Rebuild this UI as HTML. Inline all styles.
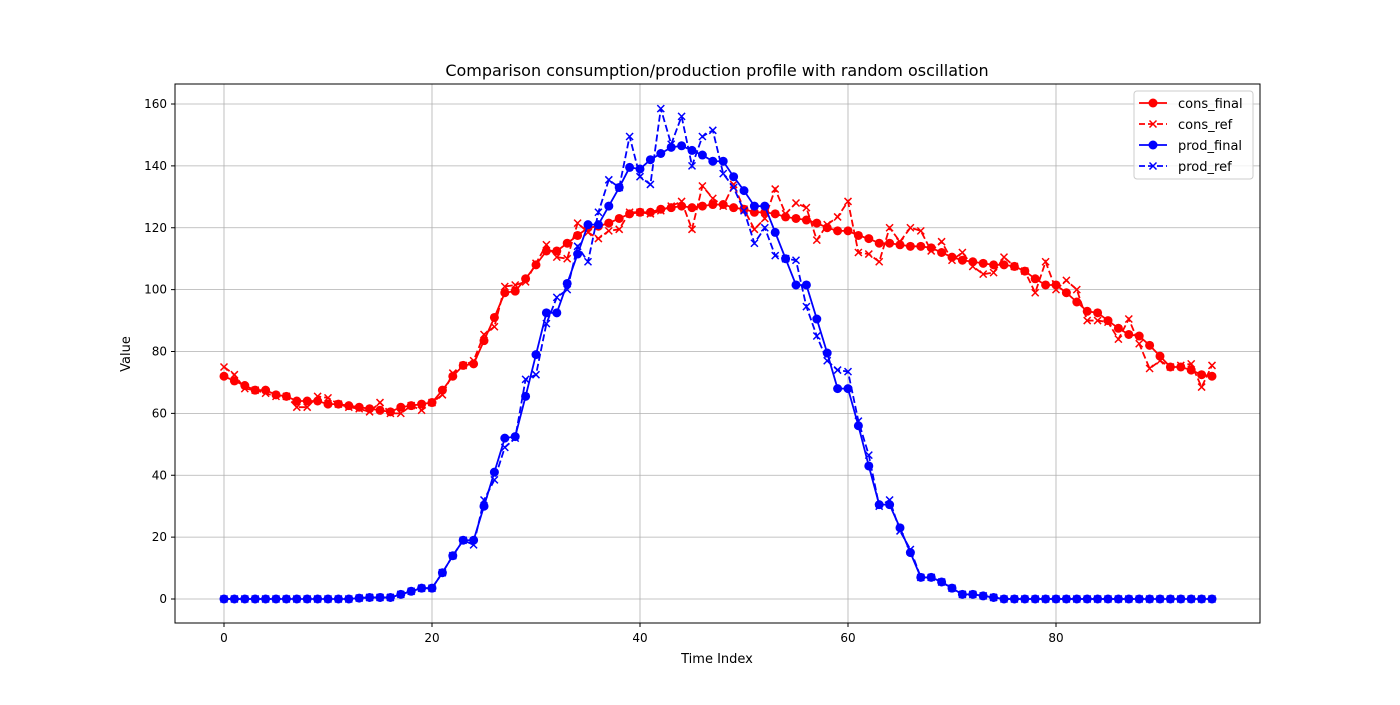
<!DOCTYPE html>
<html><head><meta charset="utf-8"><style>
body{margin:0;background:#fff;font-family:"Liberation Sans","DejaVu Sans",sans-serif}
svg text{font-family:"DejaVu Sans","Liberation Sans",sans-serif}
</style></head><body>
<svg id="chart" width="1400" height="700" xmlns="http://www.w3.org/2000/svg">
<rect width="1400" height="700" fill="#fff"/>
<g id="grid"></g>
<g id="series"></g>
<rect x="175" y="84" width="1085" height="539" fill="none" stroke="#000" stroke-width="1"/>
<g id="axes"></g>
<text x="717" y="76" text-anchor="middle" font-size="16">Comparison consumption/production profile with random oscillation</text>
<text x="717" y="663" text-anchor="middle" font-size="13">Time Index</text>
<text x="130" y="354" text-anchor="middle" font-size="13" transform="rotate(-90 130 354)">Value</text>
<g id="legend"></g>
</svg>
<script>
const xTicks=[0,20,40,60,80];
const yTicks=[0,20,40,60,80,100,120,140,160];
const consFinal=[72,70.5,69,67.5,67.5,66,65.5,64,64,64,63,63,62.5,62,61.5,61,60.5,62,62.5,63,63.5,67.5,72,75.5,76,83.5,91,99,99.5,103.5,108,112.5,112.5,115,117.5,120,120.5,121.5,123,124.5,125,125,126,126.5,127,126.5,127,127.5,127.5,126.5,126,125,125,124.5,123.5,123,122.5,121.5,120,119,119,117.5,116.5,115,115,114.5,114,114,113.5,112,110.5,109.5,109,108.5,108,108,107.5,106,103.5,101.5,101.5,99,96,93,92.5,90,87.5,85.5,85,82,78.5,75,75,74,72.5,72];
const consRef=[75,72.5,68,67.5,66.5,65.5,65.5,62,62,65.5,65,63,62,61.5,60.5,63.5,60,60,62.5,61,63.5,66,73,75.5,77,85.5,88,101,101.5,102.5,108.5,114.5,110.5,110,121.5,118.5,116.5,119,119.5,125,125,124.5,125.5,127,128.5,119.5,133.5,129.5,127,134,126,119.5,123,132.5,124.5,128,126.5,116,121,123.5,128.5,112,111.5,109,120,115.5,120,119,112.5,115.5,109.5,112,107.5,105,105.5,110.5,107.5,106,99,109,100,103,100,90,90,89.5,84,90.5,82.5,74.5,77,75,75.5,76,68.5,75.5];
const prodFinal=[0,0,0,0,0,0,0,0,0,0,0,0,0,0.3,0.5,0.5,0.5,1.5,2.5,3.5,3.5,8.5,14,19,19,30,41,52,52.5,65.5,79,92.5,92.5,102,111.5,121,121,127,133,139.5,139,142,144,146,146.5,145,143.5,141.5,141.5,136.5,132,127,127,118.5,110,101.5,101.5,90.5,79.5,68,68,56,43,30.5,30.5,23,15,7,7,5.5,3.5,1.5,1.5,1,0.5,0,0,0,0,0,0,0,0,0,0,0,0,0,0,0,0,0,0,0,0,0];
const prodRef=[0,0,0,0,0,0,0,0,0,0,0,0,0,0.3,0.5,0.5,0.5,1.5,2.5,3.5,3.5,8.5,14,19,17.5,32,38.5,49,52,71,72.5,89,97.5,100,114,109,125,135.5,133,149.5,136.5,134,158.5,147,156,140,149.5,151.5,137.5,133,125.5,115,120,111,110,109.5,94.5,85,77,74,73.5,57.5,46.5,30,32,22,16,7,7,5.5,3.5,1.5,1.5,1,0.5,0,0,0,0,0,0,0,0,0,0,0,0,0,0,0,0,0,0,0,0,0];
const NS="http://www.w3.org/2000/svg";
const X=v=>224+v*(1212-224)/95;
const Y=v=>599-v*(599-104)/160;
function mk(tag,attrs,parent){const e=document.createElementNS(NS,tag);for(const k in attrs)e.setAttribute(k,attrs[k]);parent.appendChild(e);return e;}
const grid=document.getElementById('grid'),axes=document.getElementById('axes'),ser=document.getElementById('series'),leg=document.getElementById('legend');
xTicks.forEach(t=>{
 const g=mk('line',{x1:X(t),x2:X(t),y1:84,y2:623,stroke:'#b0b0b0','stroke-width':0.8},grid);
 
 
 const tk=mk('line',{x1:X(t),x2:X(t),y1:623,y2:627,stroke:'#000'},axes);
 
 
 const tx=mk('text',{x:X(t),y:642,'text-anchor':'middle','font-size':12},axes);tx.textContent=t;
 
 
});
yTicks.forEach(t=>{
 const g=mk('line',{x1:175,x2:1260,y1:Y(t),y2:Y(t),stroke:'#b0b0b0','stroke-width':0.8},grid);
 
 
 const tk=mk('line',{x1:171,x2:175,y1:Y(t),y2:Y(t),stroke:'#000'},axes);
 
 
 const tx=mk('text',{x:167,y:Y(t)+4,'text-anchor':'end','font-size':12},axes);tx.textContent=t;
 
 
});
function cross(x,y,c,p){const d=3.5;const e=mk('path',{d:`M${x-d},${y-d}L${x+d},${y+d}M${x-d},${y+d}L${x+d},${y-d}`,stroke:c,'stroke-width':1.5,fill:'none'},p);return e;}
function draw(arr,color,dashed,marker,name){
 const g=mk('g',{},ser);
 
 
 const pts=arr.map((v,i)=>X(i)+','+Y(v)).join(' ');
 const a={points:pts,fill:'none',stroke:color,'stroke-width':1.8};
 if(dashed)a['stroke-dasharray']='7,3';
 mk('polyline',a,g);
 arr.forEach((v,i)=>{
  let m;
  if(marker==='o')m=mk('circle',{cx:X(i),cy:Y(v),r:4.5,fill:color},g);
  else m=cross(X(i),Y(v),color,g);
  
  
 });
}
draw(consFinal,'#ff0000',false,'o','cons-final-series');
draw(consRef,'#ff0000',true,'x','cons-ref-series');
draw(prodFinal,'#0000ff',false,'o','prod-final-series');
draw(prodRef,'#0000ff',true,'x','prod-ref-series');
const lb=mk('rect',{x:1134,y:91,width:119,height:88,rx:3,fill:'#fff','fill-opacity':0.8,stroke:'#ccc'},leg);


[['cons_final','#ff0000',false,'o'],['cons_ref','#ff0000',true,'x'],['prod_final','#0000ff',false,'o'],['prod_ref','#0000ff',true,'x']].forEach((s,i)=>{
 const y=103+i*21;
 const g=mk('g',{},leg);
 
 
 const la={x1:1139,x2:1167,y1:y,y2:y,stroke:s[1],'stroke-width':1.8};if(s[2])la['stroke-dasharray']='6,3';
 mk('line',la,g);
 if(s[3]==='o')mk('circle',{cx:1153,cy:y,r:4.5,fill:s[1]},g);else cross(1153,y,s[1],g);
 const t=mk('text',{x:1178,y:y+5,'font-size':13},g);t.textContent=s[0];
});
</script>
</body></html>
